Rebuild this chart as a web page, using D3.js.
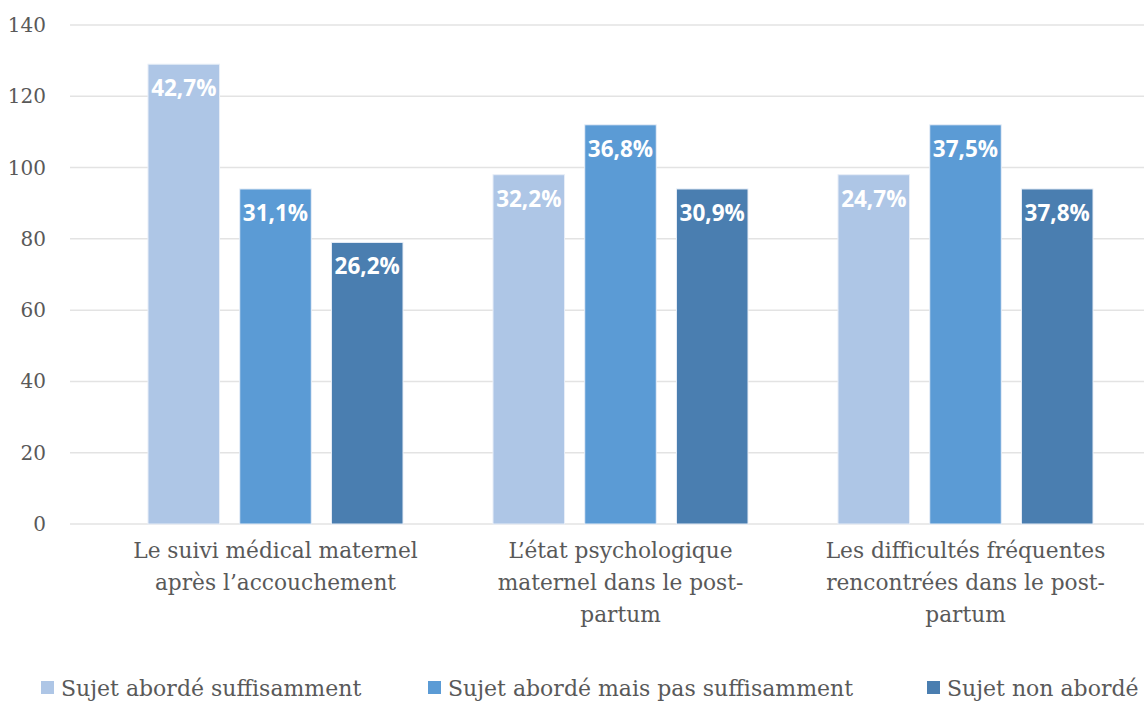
<!DOCTYPE html>
<html>
<head>
<meta charset="utf-8">
<script src="https://d3js.org/d3.v7.min.js"></script>
<style>
	body { margin: 0; background: #fff; }
	svg text { font-family: "DejaVu Serif", serif; }
</style>
</head>
<body>
<svg id="chart" width="1144" height="702"></svg>
<script>
	// data
	var categories = [
		["Le suivi médical maternel", "après l’accouchement"],
		["L’état psychologique", "maternel dans le post-", "partum"],
		["Les difficultés fréquentes", "rencontrées dans le post-", "partum"]
	];
	var seriesNames = ["Sujet abordé suffisamment", "Sujet abordé mais pas suffisamment", "Sujet non abordé"];
	var values = [
		[129, 94, 79],
		[98, 112, 94],
		[98, 112, 94]
	];
	var labels = [
		["42,7%", "31,1%", "26,2%"],
		["32,2%", "36,8%", "30,9%"],
		["24,7%", "37,5%", "37,8%"]
	];
	var yTicks = [0, 20, 40, 60, 80, 100, 120, 140];
	var colors = ["#aec6e6", "#5b9bd5", "#4a7eb0"];

	var svg = d3.select("#chart");

	var y = d3.scaleLinear().domain([0, 140]).range([524, 25]);
	var x0 = d3.scaleBand().domain(d3.range(categories.length)).range([103, 1138]).paddingInner(0).paddingOuter(0);
	var x1 = d3.scaleBand().domain(d3.range(seriesNames.length)).range([45, x0.bandwidth() - 45]).paddingInner(0.22);

	// grid
	svg.append("g").selectAll("line").data(yTicks).enter().append("line")
		.attr("x1", 70).attr("x2", 1144)
		.attr("y1", function (d) { return y(d); }).attr("y2", function (d) { return y(d); })
		.attr("stroke", "#e3e3e3").attr("stroke-width", 1.5);

	// y axis labels
	svg.append("g").selectAll("text").data(yTicks).enter().append("text")
		.attr("x", 46).attr("y", function (d) { return y(d); })
		.attr("dy", "0.35em").attr("text-anchor", "end")
		.style("font-size", "20px").style("fill", "#595959")
		.text(function (d) { return d; });

	// bars
	var groups = svg.append("g").selectAll("g").data(values).enter().append("g")
		.attr("transform", function (d, i) { return "translate(" + x0(i) + ",0)"; });

	groups.selectAll("rect").data(function (d) { return d; }).enter().append("rect")
		.attr("x", function (d, j) { return x1(j); })
		.attr("y", function (d) { return y(d); })
		.attr("width", x1.bandwidth())
		.attr("height", function (d) { return y(0) - y(d); })
		.attr("fill", function (d, j) { return colors[j]; })
		.attr("stroke", "#e8eef7").attr("stroke-width", 1);

	groups.selectAll("text").data(function (d, i) { return d.map(function (v, j) { return { v: v, l: labels[i][j] }; }); })
		.enter().append("text")
		.attr("x", function (d, j) { return x1(j) + x1.bandwidth() / 2; })
		.attr("y", function (d) { return y(d.v) + 32; })
		.attr("text-anchor", "middle")
		.style("font-family", "'Open Sans', sans-serif").style("font-weight", "bold")
		.style("font-size", "22.5px").style("fill", "#fff")
		.text(function (d) { return d.l; });

	// category labels
	var cat = svg.append("g").selectAll("text").data(categories).enter().append("text")
		.attr("x", function (d, i) { return x0(i) + x0.bandwidth() / 2; })
		.attr("y", 558)
		.attr("text-anchor", "middle")
		.style("font-size", "21.7px").style("fill", "#595959");
	cat.selectAll("tspan").data(function (d) { return d; }).enter().append("tspan")
		.attr("x", function () { return d3.select(this.parentNode).attr("x"); })
		.attr("dy", function (d, k) { return k === 0 ? 0 : 32; })
		.text(function (d) { return d; });

	// legend
	var legX = [41, 428, 927];
	var leg = svg.append("g").selectAll("g").data(seriesNames).enter().append("g")
		.attr("transform", function (d, i) { return "translate(" + legX[i] + ",688)"; });
	leg.append("rect").attr("x", 0).attr("y", -7).attr("width", 13).attr("height", 13)
		.attr("fill", function (d, i) { return colors[i]; });
	leg.append("text").attr("x", 20).attr("y", 0).attr("dy", "0.35em")
		.style("font-size", "22px").style("fill", "#595959")
		.text(function (d) { return d; });
</script>
</body>
</html>
